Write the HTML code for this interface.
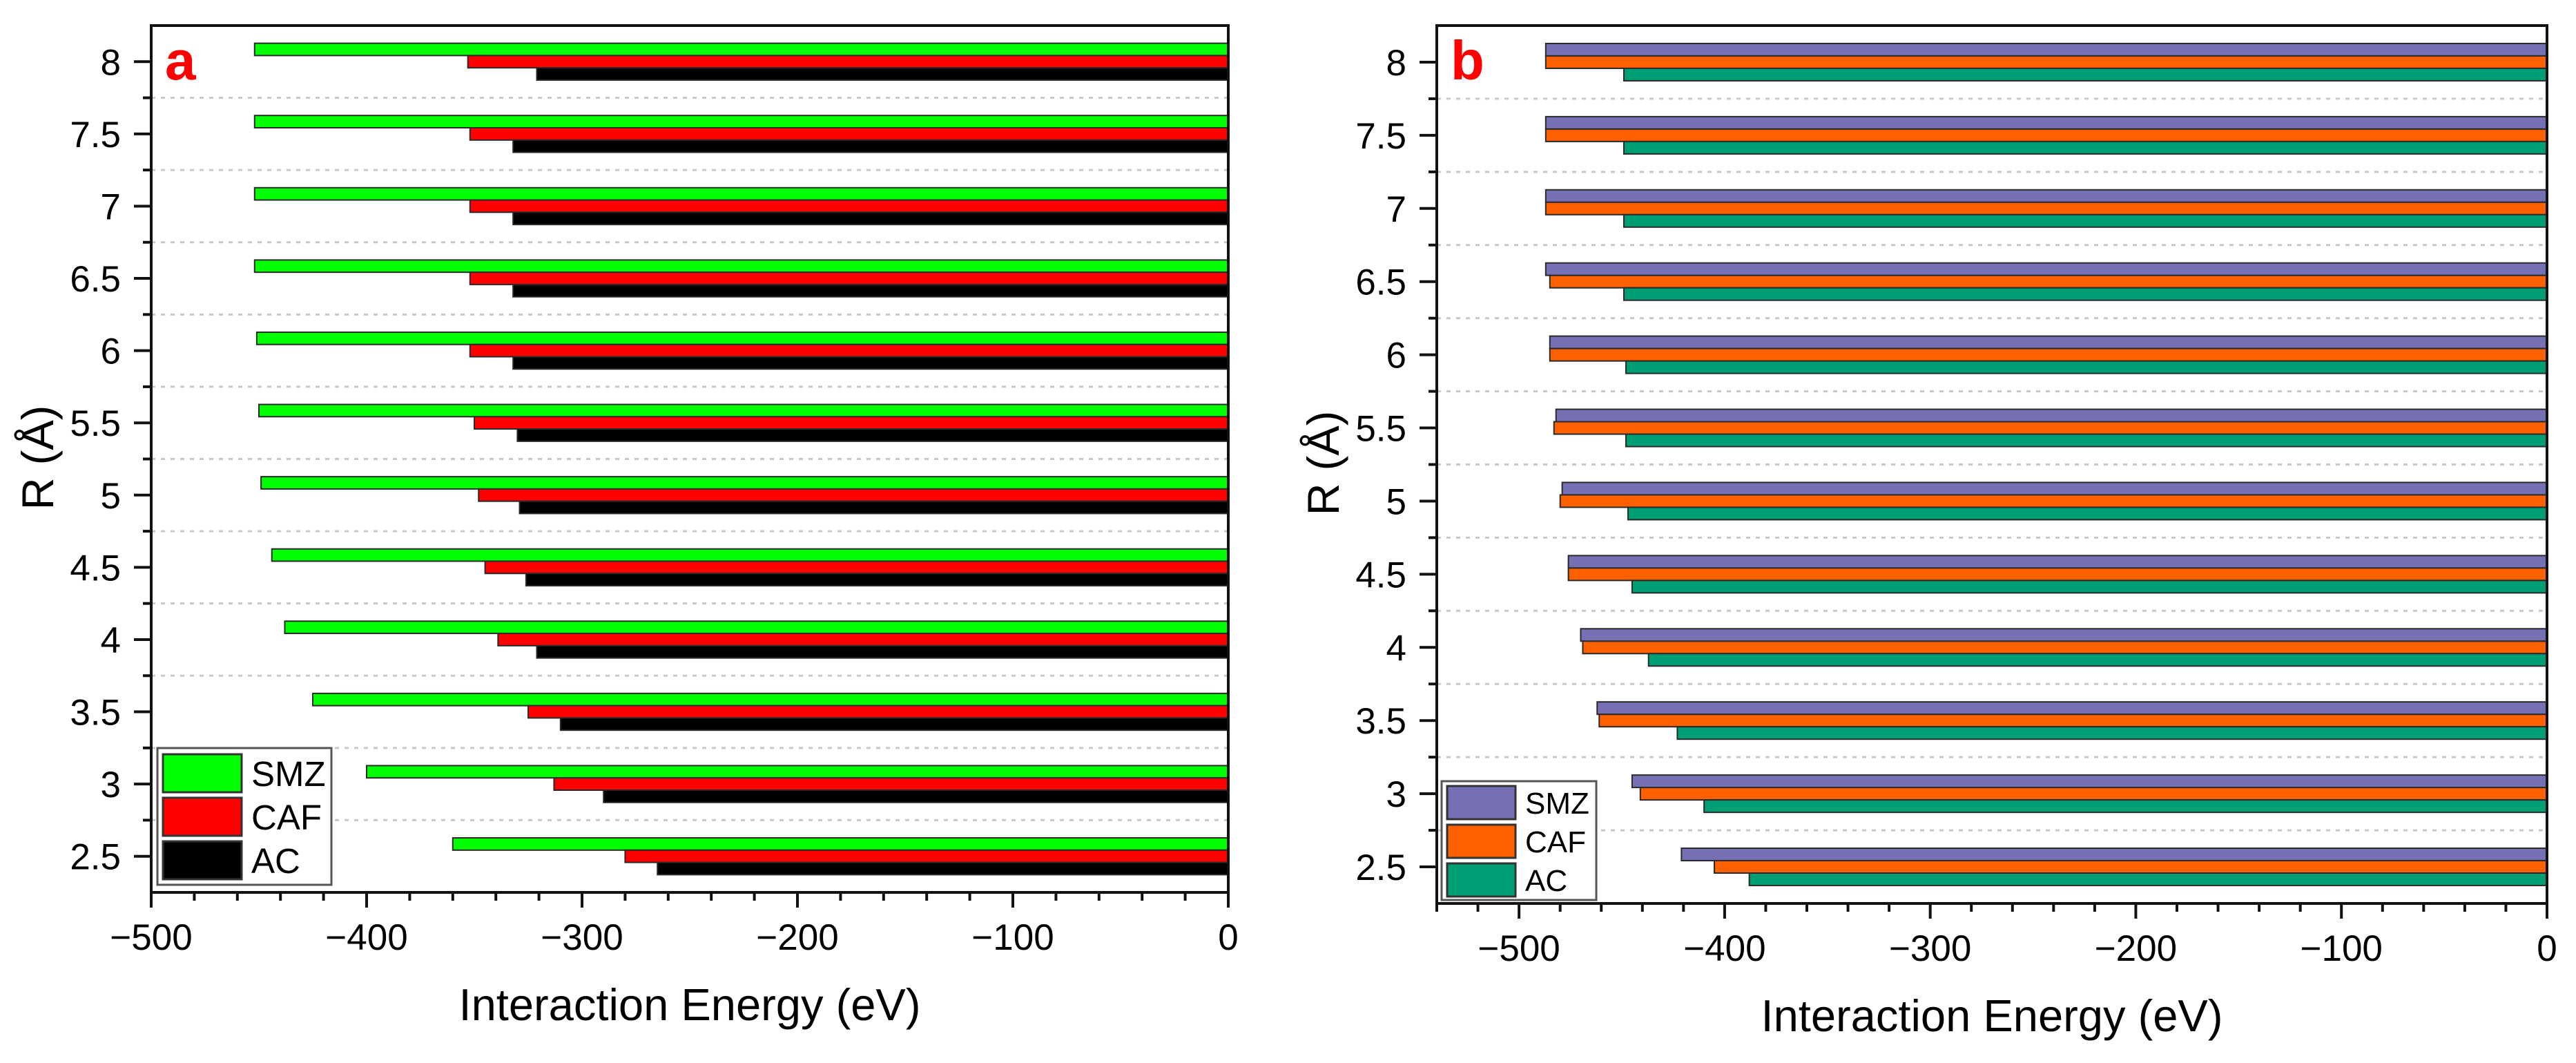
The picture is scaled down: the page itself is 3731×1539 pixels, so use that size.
<!DOCTYPE html>
<html><head><meta charset="utf-8"><style>
html,body{margin:0;padding:0;background:#fff;}
svg{display:block;font-family:"Liberation Sans",Arial,sans-serif;}
</style></head><body>
<svg id="fig" width="3731" height="1539" viewBox="0 0 3731 1539" xmlns="http://www.w3.org/2000/svg"></svg>
<script>
const rValues = [8,7.5,7,6.5,6,5.5,5,4.5,4,3.5,3,2.5];
const seriesNames = ["SMZ","CAF","AC"];
const aSMZ = [-452,-452,-452,-452,-451,-450,-449,-444,-438,-425,-400,-360];
const aCAF = [-353,-352,-352,-352,-352,-350,-348,-345,-339,-325,-313,-280];
const aAC  = [-321,-332,-332,-332,-332,-330,-329,-326,-321,-310,-290,-265];
const bSMZ = [-487,-487,-487,-487,-485,-482,-479,-476,-470,-462,-445,-421];
const bCAF = [-487,-487,-487,-485,-485,-483,-480,-476,-469,-461,-441,-405];
const bAC  = [-449,-449,-449,-449,-448,-448,-447,-445,-437,-423,-410,-388];
const xTicksA = [-500,-400,-300,-200,-100,0];
const xTicksB = [-500,-400,-300,-200,-100,0];
const yTicks = [2.5,3,3.5,4,4.5,5,5.5,6,6.5,7,7.5,8];

const NS="http://www.w3.org/2000/svg";
const svg=document.getElementById('fig');
function mk(tag,attrs,parent){const e=document.createElementNS(NS,tag);for(const k in attrs)e.setAttribute(k,attrs[k]);(parent||svg).appendChild(e);return e;}

function panel(cfg){
  const g=mk('g',{});
  
  
  const X=v=>cfg.x1+(v-cfg.xmax)/(cfg.xmax-cfg.xmin)*(cfg.x1-cfg.x0);
  const Y=r=>cfg.y0+(cfg.ymax-r)/(cfg.ymax-cfg.ymin)*(cfg.y1-cfg.y0);
  const unit=(cfg.y1-cfg.y0)/(cfg.ymax-cfg.ymin);
  const bh=0.085*unit;
  // gridlines
  for(let r=cfg.ymin+0.5;r<cfg.ymax;r+=0.5){
    const gl=mk('line',{x1:cfg.x0,x2:cfg.x1,y1:Y(r),y2:Y(r),stroke:'#c8c8c8','stroke-width':3,'stroke-dasharray':'6 8'},g);
    
    
  }
  // bars
  const data=[cfg.s1,cfg.s2,cfg.s3];
  rValues.forEach((r,i)=>{
    data.forEach((arr,k)=>{
      const v=arr[i];
      const top=Y(r)-1.5*bh+k*bh;
      const b=mk('rect',{x:X(v),y:top,width:X(0)-X(v),height:bh,fill:cfg.colors[k],stroke:'#2a2a2a','stroke-width':2},g);
      
      
    });
  });
  // frame
  const fr=mk('rect',{x:cfg.x0,y:cfg.y0,width:cfg.x1-cfg.x0,height:cfg.y1-cfg.y0,fill:'none',stroke:'#111','stroke-width':4},g);
  
  
  // x ticks
  for(let v=cfg.xmin;v<=cfg.xmax;v+=20){
    const major=(v%100===0);
    const t=mk('line',{x1:X(v),x2:X(v),y1:cfg.y1,y2:cfg.y1+(major?22:12),stroke:'#111','stroke-width':4},g);
    
    
  }
  cfg.xticks.forEach(v=>{
    const t=mk('text',{x:X(v),y:cfg.y1+83,'font-size':53,'text-anchor':'middle',fill:'#000'},g);
    t.textContent=(v<0?'\u2212':'')+Math.abs(v);
    
    
  });
  // y ticks
  for(let r=cfg.ymin+0.25;r<cfg.ymax;r+=0.25){
    const major=Math.abs(r*2-Math.round(r*2))<1e-6;
    const t=mk('line',{x1:cfg.x0-(major?25:12),x2:cfg.x0,y1:Y(r),y2:Y(r),stroke:'#111','stroke-width':4},g);
    
    
  }
  yTicks.forEach(r=>{
    const t=mk('text',{x:cfg.x0-44,y:Y(r)+19,'font-size':53,'text-anchor':'end',fill:'#000'},g);
    t.textContent=String(r);
    
    
  });
  // axis titles
  const xt=mk('text',{x:(cfg.x0+cfg.x1)/2,y:cfg.y1+185,'font-size':65,'text-anchor':'middle',textLength:669,lengthAdjust:'spacingAndGlyphs',fill:'#000'},g);
  xt.textContent='Interaction Energy (eV)';
  
  
  const cy=(cfg.y0+cfg.y1)/2-2;
  const yt=mk('text',{x:0,y:0,'font-size':65,'text-anchor':'middle',transform:`translate(${cfg.x0-142},${cy}) rotate(-90)`,fill:'#000'},g);
  yt.textContent='R (\u00C5)';
  
  
  // panel letter
  const pl=mk('text',{x:cfg.x0+20,y:115,'font-size':80,'font-weight':'bold',fill:'#ff0000'},g);
  pl.textContent=cfg.id;
  
  
  // legend
  const L=cfg.legend;
  const lg=mk('g',{},g);
  
  
  mk('rect',{x:L.x,y:L.y,width:L.w,height:L.h,fill:'#fff',stroke:'#555','stroke-width':3},lg);
  seriesNames.forEach((n,k)=>{
    const ey=L.y+L.pad+k*L.row;
    const e=mk('g',{},lg);
    
    
    mk('rect',{x:L.x+8,y:ey,width:L.sw,height:L.row-8,fill:cfg.colors[k],stroke:'#333','stroke-width':3},e);
    const t=mk('text',{x:L.x+L.sw+22,y:ey+(L.row-8)/2+L.fs*0.36,'font-size':L.fs,fill:'#000'},e);
    t.textContent=n;
  });
}

panel({id:'a',x0:219,x1:1779,y0:37,y1:1292,xmin:-500,xmax:0,ymin:2.25,ymax:8.25,
  s1:aSMZ,s2:aCAF,s3:aAC,colors:['#00ff00','#ff0000','#000000'],xticks:xTicksA,
  legend:{x:228,y:1083,w:252,h:198,pad:9,row:63,sw:114,fs:51}});
panel({id:'b',x0:2081,x1:3689,y0:37,y1:1308,xmin:-540,xmax:0,ymin:2.25,ymax:8.25,
  s1:bSMZ,s2:bCAF,s3:bAC,colors:['#7670b5','#ff6000','#009e74'],xticks:xTicksB,
  legend:{x:2088,y:1131,w:224,h:172,pad:7,row:56,sw:99,fs:44}});
</script>
</body></html>
